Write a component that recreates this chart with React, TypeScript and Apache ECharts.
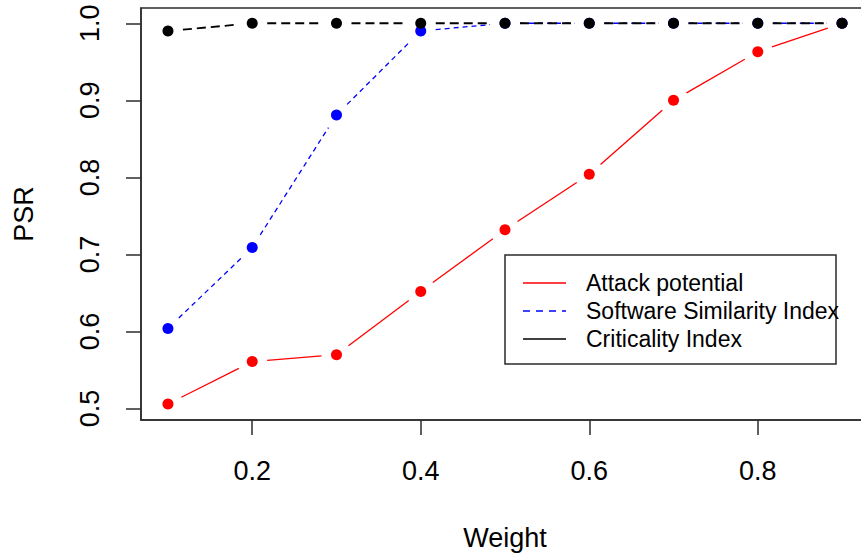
import React, { useEffect, useRef } from "react";
import * as echarts from "echarts";

const weights = [0.1, 0.2, 0.3, 0.4, 0.5, 0.6, 0.7, 0.8, 0.9];
const attackPotential = [0.506, 0.561, 0.57, 0.652, 0.732, 0.804, 0.9, 0.963, 1.0];
const softwareSimilarity = [0.604, 0.709, 0.881, 0.99, 1.0, 1.0, 1.0, 1.0, 1.0];
const criticality = [0.99, 1.0, 1.0, 1.0, 1.0, 1.0, 1.0, 1.0, 1.0];
const seriesNames = ["Attack potential", "Software Similarity Index", "Criticality Index"];
const xTicks = [0.2, 0.4, 0.6, 0.8];
const yTicks = [0.5, 0.6, 0.7, 0.8, 0.9, 1.0];

const FONT = "'Liberation Sans', Arial, sans-serif";
const AXIS_COLOR = "#2b2b2b";
const GAP = 15;
const CHART_W = 880;
const CHART_H = 558;

type Spec = { name: string; values: number[]; color: string; width: number; dash: number[] | null };

const specs: Spec[] = [
  { name: seriesNames[0], values: attackPotential, color: "#ff0000", width: 1.3, dash: null },
  { name: seriesNames[1], values: softwareSimilarity, color: "#0000ff", width: 1.3, dash: [5, 4] },
  { name: seriesNames[2], values: criticality, color: "#000000", width: 1.8, dash: [9, 5] },
];

function buildSeries(): any[] {
  const out: any[] = [];
  specs.forEach((s) => {
    const segs: number[][] = [];
    for (let i = 0; i < weights.length - 1; i++) {
      segs.push([weights[i], s.values[i], weights[i + 1], s.values[i + 1]]);
    }
    out.push({
      type: "custom",
      name: s.name + " line",
      clip: false,
      encode: { x: [0, 2], y: [1, 3] },
      data: segs,
      z: 2,
      renderItem: (_p: any, api: any) => {
        const p0 = api.coord([api.value(0), api.value(1)]);
        const p1 = api.coord([api.value(2), api.value(3)]);
        const dx = p1[0] - p0[0];
        const dy = p1[1] - p0[1];
        const len = Math.sqrt(dx * dx + dy * dy);
        if (len <= 2 * GAP) return null;
        const ux = dx / len;
        const uy = dy / len;
        const shape = {
          x1: p0[0] + ux * GAP,
          y1: p0[1] + uy * GAP,
          x2: p1[0] - ux * GAP,
          y2: p1[1] - uy * GAP,
        };
        const style: any = { stroke: s.color, lineWidth: s.width, fill: "none" };
        if (s.dash) style.lineDash = s.dash;
        return { type: "line", shape, style };
      },
    });
    out.push({
      type: "scatter",
      name: s.name,
      data: weights.map((w, i) => [w, s.values[i]]),
      symbol: "circle",
      symbolSize: 11,
      z: 3,
      itemStyle: { color: s.color, opacity: 1 },
      emphasis: { disabled: true },
    });
  });
  return out;
}

function buildLegend(): any[] {
  const left = 505;
  const top = 255;
  const rowY = [283, 311, 339];
  const children: any[] = [
    {
      type: "rect",
      shape: { x: left, y: top, width: 331, height: 109 },
      style: { fill: "#ffffff", stroke: AXIS_COLOR, lineWidth: 1.5 },
    },
  ];
  specs.forEach((s, i) => {
    const ls: any = { stroke: s.color, lineWidth: 1.3 };
    if (i === 1) ls.lineDash = [7, 6];
    children.push({
      type: "line",
      shape: { x1: 523, y1: rowY[i], x2: 566, y2: rowY[i] },
      style: ls,
    });
    children.push({
      type: "text",
      x: 586,
      y: rowY[i],
      style: {
        text: s.name,
        font: `23px ${FONT}`,
        fill: "#000000",
        verticalAlign: "middle",
        align: "left",
      },
    });
  });
  return [{ type: "group", id: "legend", children, z: 100 }];
}

export default function App() {
  const ref = useRef<HTMLDivElement>(null);
  useEffect(() => {
    if (!ref.current) return;
    const chart = echarts.init(ref.current, null, { renderer: "svg" });
    chart.setOption({
      animation: false,
      backgroundColor: "#ffffff",
      textStyle: { fontFamily: FONT },
      grid: {
        left: 141,
        top: 8,
        width: 728,
        bottom: 138,
        show: true,
        borderColor: AXIS_COLOR,
        borderWidth: 1.5,
        backgroundColor: "transparent",
      },
      xAxis: {
        type: "value",
        min: 0.068,
        max: 0.932,
        name: "Weight",
        nameLocation: "middle",
        nameGap: 104,
        nameTextStyle: { fontSize: 27, color: "#000", fontFamily: FONT },
        axisLine: { show: true, lineStyle: { color: AXIS_COLOR, width: 1.5 } },
        axisTick: {
          show: true,
          length: 15,
          inside: false,
          customValues: xTicks,
          lineStyle: { color: AXIS_COLOR, width: 1.5 },
        },
        axisLabel: {
          show: true,
          customValues: xTicks,
          margin: 37,
          fontSize: 27,
          color: "#000",
          fontFamily: FONT,
          formatter: (v: number) => v.toFixed(1),
        },
        splitLine: { show: false },
      },
      yAxis: {
        type: "value",
        min: 0.4852,
        max: 1.0198,
        name: "PSR",
        nameLocation: "middle",
        nameGap: 104,
        nameRotate: 90,
        nameTextStyle: { fontSize: 27, color: "#000", fontFamily: FONT },
        axisLine: { show: true, lineStyle: { color: AXIS_COLOR, width: 1.5 } },
        axisTick: {
          show: true,
          length: 15,
          inside: false,
          customValues: yTicks,
          lineStyle: { color: AXIS_COLOR, width: 1.5 },
        },
        axisLabel: {
          show: true,
          customValues: yTicks,
          rotate: 90,
          margin: 38,
          fontSize: 27,
          color: "#000",
          fontFamily: FONT,
          formatter: (v: number) => v.toFixed(1),
        },
        splitLine: { show: false },
      },
      series: buildSeries(),
      graphic: buildLegend(),
    });
    return () => chart.dispose();
  }, []);
  return (
    <div style={{ position: "absolute", left: 0, top: 0, width: 861, height: 558, overflow: "hidden" }}>
      <div ref={ref} style={{ width: CHART_W, height: CHART_H }} />
    </div>
  );
}
